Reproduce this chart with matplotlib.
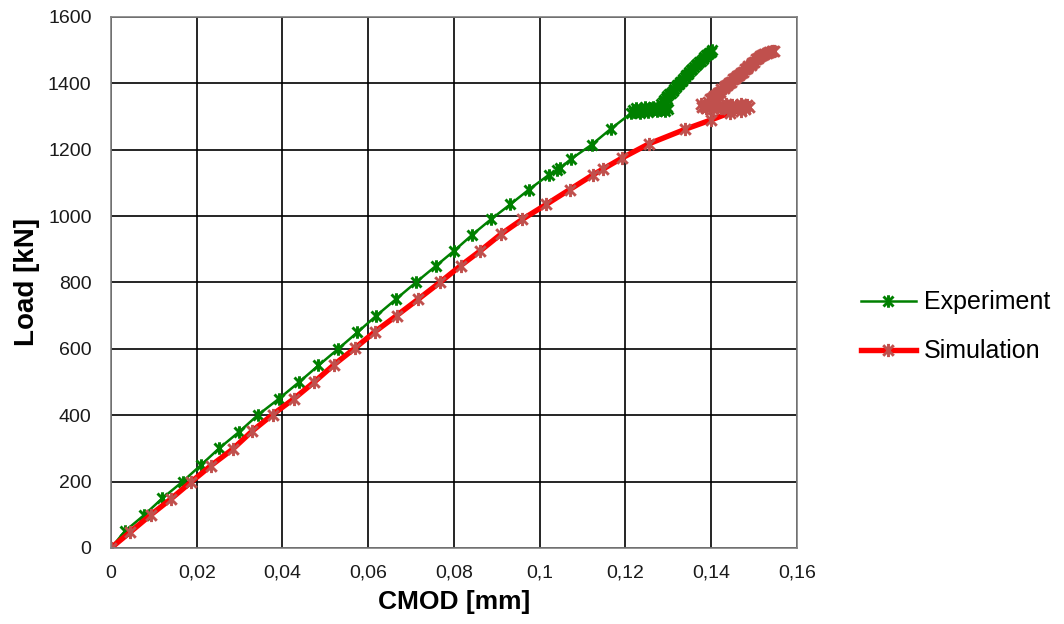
import matplotlib
matplotlib.use('Agg')
import matplotlib.pyplot as plt
from matplotlib.path import Path
from matplotlib.ticker import FuncFormatter, MultipleLocator

plt.rcParams['font.family'] = ['Liberation Sans', 'DejaVu Sans']

# Experiment: CMOD [mm] / Load [kN]
exp_cmod = [0, 0.0032, 0.0078, 0.0120, 0.0167, 0.0210, 0.0252, 0.0299, 0.0342, 0.0392,
            0.0439, 0.0484, 0.0530, 0.0575, 0.0619, 0.0665, 0.0711, 0.0758, 0.0800, 0.0842,
            0.0886, 0.0931, 0.0975, 0.1022, 0.1040, 0.1048, 0.1073, 0.1121, 0.1166, 0.1213,
            # plateau around 1320 kN
            0.1217, 0.1221, 0.1225, 0.1229, 0.1233, 0.1237, 0.1241, 0.1245, 0.1249, 0.1253,
            0.1257, 0.1261, 0.1265, 0.1269, 0.1273, 0.1277, 0.1281, 0.1285, 0.1289, 0.1293,
            0.1297, 0.1300,
            # reloading up to 1500 kN
            0.1282, 0.1287, 0.1291, 0.1295, 0.1298, 0.1302, 0.1306, 0.1310, 0.1313, 0.1317,
            0.1320, 0.1324, 0.1327, 0.1331, 0.1334, 0.1338, 0.1341, 0.1345, 0.1348, 0.1352,
            0.1356, 0.1360, 0.1364, 0.1368, 0.1372, 0.1376, 0.1380, 0.1384, 0.1388, 0.1392,
            0.1396, 0.1400, 0.1403]
exp_load = [0, 50, 100, 150, 200, 250, 300, 350, 400, 450,
            500, 550, 600, 650, 700, 750, 800, 850, 895, 943,
            990, 1035, 1080, 1125, 1138, 1145, 1172, 1215, 1263, 1310,
            1320, 1314, 1325, 1318, 1312, 1324, 1317, 1328, 1320, 1314,
            1326, 1319, 1330, 1322, 1316, 1328, 1321, 1332, 1324, 1318,
            1328, 1322,
            1338, 1345, 1350, 1357, 1362, 1368, 1372, 1378, 1383, 1388,
            1394, 1398, 1404, 1408, 1414, 1419, 1425, 1429, 1435, 1439,
            1444, 1448, 1454, 1458, 1464, 1468, 1474, 1478, 1484, 1487,
            1492, 1495, 1499]

# Simulation
sim_cmod = [0, 0.0044, 0.0093, 0.0140, 0.0186, 0.0233, 0.0284, 0.0329, 0.0377, 0.0427,
            0.0474, 0.0520, 0.0569, 0.0616, 0.0666, 0.0717, 0.0767, 0.0816, 0.0861, 0.0909,
            0.0959, 0.1015, 0.1070, 0.1125, 0.1148, 0.1192, 0.1255, 0.1340, 0.1400, 0.1445,
            0.1470,
            # plateau
            0.1488, 0.1484, 0.1479, 0.1474, 0.1469, 0.1464, 0.1459, 0.1454, 0.1449, 0.1444,
            0.1439, 0.1434, 0.1429, 0.1424, 0.1419, 0.1414, 0.1409, 0.1404, 0.1399, 0.1394,
            0.1389, 0.1384, 0.1379, 0.1376,
            # reloading
            0.1392, 0.1398, 0.1402, 0.1406, 0.1411, 0.1415, 0.1420, 0.1424, 0.1429, 0.1433,
            0.1438, 0.1442, 0.1447, 0.1451, 0.1456, 0.1460, 0.1465, 0.1469, 0.1474, 0.1478,
            0.1483, 0.1487, 0.1492, 0.1496, 0.1501, 0.1505, 0.1510, 0.1514, 0.1519, 0.1524,
            0.1530, 0.1536, 0.1541, 0.1546]
sim_load = [0, 47, 100, 148, 198, 248, 298, 352, 402, 450,
            500, 552, 602, 652, 700, 750, 800, 851, 895, 945,
            990, 1035, 1080, 1125, 1142, 1175, 1218, 1262, 1290, 1312,
            1318,
            1328, 1335, 1324, 1331, 1338, 1326, 1333, 1322, 1336, 1329,
            1324, 1337, 1330, 1325, 1334, 1328, 1338, 1323, 1332, 1336,
            1326, 1333, 1329, 1337,
            1345, 1352, 1355, 1362, 1364, 1372, 1375, 1382, 1385, 1392,
            1395, 1402, 1405, 1412, 1415, 1422, 1425, 1432, 1435, 1442,
            1445, 1452, 1455, 1462, 1465, 1472, 1475, 1482, 1484, 1489,
            1492, 1495, 1497, 1498]

# excel style star marker (x + vertical bar)
star = Path([(-1, -1), (1, 1), (-1, 1), (1, -1), (0, -1.25), (0, 1.25)],
            [Path.MOVETO, Path.LINETO, Path.MOVETO, Path.LINETO, Path.MOVETO, Path.LINETO])

fig = plt.figure(figsize=(10.64, 6.24), dpi=100)
ax = fig.add_axes([0.1043, 0.1218, 0.6447, 0.851])

ax.plot(exp_cmod, exp_load, color='#008000', lw=1.8, marker=star, ms=9,
        mec='#008000', mew=2.1, label='Experiment')
ax.plot(sim_cmod, sim_load, color='#FF0000', lw=3.9, marker=star, ms=9.5,
        mec='#C0504D', mew=2.1, label='Simulation')

ax.set_xlim(0, 0.16)
ax.set_ylim(0, 1600)
ax.xaxis.set_major_locator(MultipleLocator(0.02))
ax.yaxis.set_major_locator(MultipleLocator(200))
ax.xaxis.set_major_formatter(FuncFormatter(lambda v, p: ('%g' % round(v, 4)).replace('.', ',')))
ax.tick_params(length=0, labelsize=14, colors='#1a1a1a')
ax.tick_params(axis='y', pad=14)
ax.tick_params(axis='x', pad=12)
ax.grid(True, color='black', lw=1.2)
ax.set_axisbelow(True)
for s in ax.spines.values():
    s.set_color('#808080')
    s.set_linewidth(1.2)

ax.set_xlabel('CMOD [mm]', fontsize=19, fontweight='bold', labelpad=6)
ax.set_ylabel('Load [kN]', fontsize=20, fontweight='bold', labelpad=6)

fig.legend(loc='center left', bbox_to_anchor=(0.797, 0.476), frameon=False,
           fontsize=18, numpoints=1, handlelength=2.2, handletextpad=0.35,
           labelspacing=1.0, borderpad=0)

fig.savefig('out.png', dpi=100)
